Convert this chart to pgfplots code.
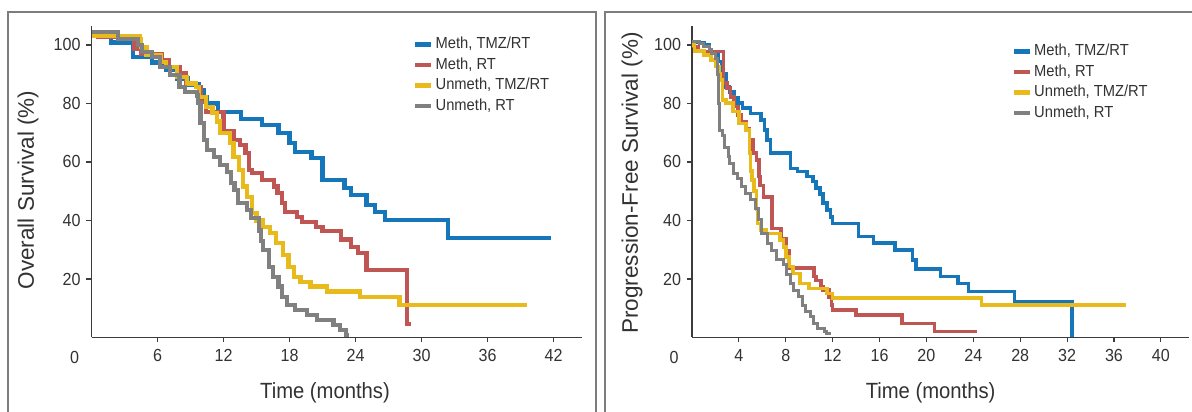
\documentclass[border=0pt]{standalone}
\usepackage{pgfplots}
\pgfplotsset{compat=1.18}
\usepackage{fontspec}
\setmainfont{Liberation Sans}[FakeStretch=0.92]
\newfontfamily\ylabfont{Liberation Sans}
\definecolor{cblue}{RGB}{22,118,186}
\definecolor{cred}{RGB}{192,86,84}
\definecolor{cyel}{RGB}{232,186,28}
\definecolor{cgray}{RGB}{128,128,128}
\definecolor{txt}{RGB}{50,50,50}
\definecolor{framec}{RGB}{125,125,125}
\definecolor{axl}{RGB}{60,60,60}
\pgfplotsset{
 km/.style={
  scale only axis, anchor=south west,
  axis lines=left,
  axis line style={axl, line width=1.5pt, -},
  tick align=outside, tick style={axl, line width=1.2pt}, major tick length=5pt,
  ymin=0, ymax=106.3, ytick={20,40,60,80,100},
  tick label style={font=\fontsize{17.5}{19}\selectfont, text=txt},
  xticklabel style={yshift=-3pt},
  yticklabel style={xshift=-2.5pt},
  /pgf/number format/assume math mode=true,
  clip=false,
  legend cell align=left,
  legend style={draw=none, fill=none, anchor=north west, font=\fontsize{16}{18}\selectfont, text=txt,
    nodes={inner sep=0pt, text height=11.5pt, text depth=3pt}, row sep=6pt, column sep=2pt},
  legend image code/.code={\draw[#1, line width=4.5pt] plot coordinates {(0pt,0pt) (16pt,0pt)};},
  every axis plot/.append style={const plot, line width=4.2pt, mark=none},
 }
}
\begin{document}
\begin{tikzpicture}[x=1pt,y=1pt]
\path[use as bounding box] (0,0) rectangle (1192,412);
\draw[framec, line width=1.5pt] (8,-5) -- (8,400) -- (596,400) -- (596,-5);
\draw[framec, line width=1.5pt] (605,-5) -- (605,400) -- (1200,400);
% ---------------- Left: overall survival
\begin{axis}[km, at={(91.5pt,74.5pt)}, width=490.6pt, height=311pt,
  xmin=0, xmax=44.6, xtick={6,12,18,24,30,36,42},
  legend style={at={(axis cs:28.95,103.4)}}]
\addplot[cblue] coordinates {(0,103.3) (1.8,100.8) (3.8,96.0) (5.5,94) (6.8,91.5) (7.8,88.5) (8.8,86.5) (9.8,84.6) (10.2,82) (10.5,80) (11.5,77.1) (13.6,74.8) (15.5,72.5) (17.0,70) (18.0,66.4) (18.5,63.3) (20.0,61.3) (21.0,53.8) (23.0,51) (23.6,48.7) (25.0,45.3) (25.8,43) (26.7,40.2) (32.4,33.9) (41.8,33.9)};
\addlegendentry{Meth, TMZ/RT}
\addplot[cred] coordinates {(0,104) (0.6,102.8) (3.9,98.7) (4.5,97) (6.4,94.8) (7.0,92.5) (8.0,90.2) (8.6,86.8) (9.5,85.6) (9.9,80.4) (10.4,77.1) (12.0,70.6) (12.9,67.5) (13.5,65.8) (14.0,63) (14.3,57.3) (14.6,56.1) (15.5,53.8) (16.6,51.6) (16.9,49.3) (17.3,45.9) (17.6,43) (18.7,41.3) (19.1,39.6) (20.4,37.9) (21.0,36.5) (22.7,33.5) (23.6,31) (24.2,28.8) (25.0,23.1) (28.65,4.5) (29.0,4.5)};
\addlegendentry{Meth, RT}
\addplot[cyel] coordinates {(0,103) (4.4,102) (4.5,99.3) (5.0,96.5) (6.3,94.2) (6.8,92.5) (7.8,89) (8.7,86.8) (9.5,85.6) (9.8,82.2) (10.4,78.8) (11.0,76.6) (11.4,73.8) (11.7,69.8) (12.6,66.4) (12.9,61.8) (13.4,57.3) (13.8,51.6) (14.1,48.1) (14.6,42.5) (15.0,40) (15.6,37.9) (16.2,35.6) (16.8,32.2) (17.4,28.2) (17.9,24.2) (18.4,20.8) (19.0,19.1) (19.9,17.4) (21.4,15.7) (24.4,13.9) (28.0,11.1) (39.6,11.1)};
\addlegendentry{Unmeth, TMZ/RT}
\addplot[cgray] coordinates {(0,104.4) (2.4,102) (4.2,99.9) (4.6,97.6) (5.5,95.9) (6.2,92.5) (7.1,89.6) (8.0,85.6) (8.5,83.9) (9.6,82.7) (9.7,80.1) (9.9,73.2) (10.2,67.5) (10.5,64.1) (11.1,61.8) (11.7,59) (12.3,56.7) (12.7,52.7) (13.0,50.4) (13.3,45.9) (14.1,43.6) (14.5,40.9) (15.2,36.6) (15.4,33.1) (15.6,29.9) (16.1,24.2) (16.5,20.7) (17.0,17.4) (17.3,13.9) (17.8,11.1) (18.5,9.4) (19.6,7.7) (20.5,6.0) (22.0,4.3) (22.6,2.6) (23.1,0.9) (23.4,0.9)};
\addlegendentry{Unmeth, RT}
\end{axis}
\node[text=txt, font=\fontsize{17.5}{19}\selectfont] at (74.6,55) {0};
\node[text=txt, font=\ylabfont\fontsize{22.5}{26}\selectfont, rotate=90] at (28,222) {Overall Survival (\%)};
\node[text=txt, font=\fontsize{22}{26}\selectfont] at (325,19) {Time (months)};
% ---------------- Right: progression-free survival
\begin{axis}[km, at={(692pt,74.5pt)}, width=497pt, height=311pt,
  xmin=0, xmax=42.4, xtick={4,8,12,16,20,24,28,32,36,40},
  every axis plot/.append style={line width=3.6pt},
  legend style={at={(axis cs:27.0,101.0)}}]
\addplot[cblue] coordinates {(0,100.8) (1.0,100) (1.5,97.7) (2.2,94.3) (2.5,90.3) (2.9,85.7) (3.2,84) (3.6,81.8) (3.9,80.1) (4.3,78.4) (5.0,76.6) (5.9,74.4) (6.2,70.9) (6.4,67.5) (6.7,63) (8.4,57.8) (9.0,56.7) (9.8,55) (10.3,53.3) (10.6,51) (10.9,49) (11.2,46) (11.5,43.5) (11.8,41.1) (12.0,39) (14.2,34.5) (15.5,32.2) (17.3,29.9) (18.8,26.5) (19.1,23.4) (21.2,20.8) (22.7,18.5) (23.6,15.7) (27.5,12.2) (32.4,0)};
\addlegendentry{Meth, TMZ/RT}
\addplot[cred] coordinates {(0,99.5) (0.5,97.7) (2.7,86.9) (3.0,85.2) (3.3,82.3) (3.6,78.9) (3.9,76.1) (4.2,73.8) (4.6,71.5) (4.9,67.5) (5.2,63) (5.5,60.7) (5.7,55) (5.8,52) (6.1,48.1) (6.8,37.3) (7.6,33.9) (8.0,29.5) (8.3,23.7) (10.4,20.8) (10.6,19.5) (11.0,17.4) (11.2,16.2) (11.7,13.9) (11.9,11.1) (12.0,9.4) (14.0,7.7) (17.9,4.8) (20.7,2.0) (24.3,2.0)};
\addlegendentry{Meth, RT}
\addplot[cyel] coordinates {(0,100) (0.2,98) (1.0,96.6) (1.6,94.9) (2.0,92.6) (2.3,90) (2.4,88) (2.6,81.2) (2.9,80.1) (3.5,77.2) (4.0,73.2) (4.6,70.9) (4.9,63) (5.0,57) (5.1,53.8) (5.3,50) (5.5,44) (5.6,39) (5.9,36.8) (6.3,35.6) (7.5,33.3) (7.8,31) (8.0,27.6) (8.3,24.2) (8.6,21.9) (9.2,18.5) (10.0,16.8) (11.5,15.1) (12.0,13.4) (24.7,11.1) (37.0,11.1)};
\addlegendentry{Unmeth, TMZ/RT}
\addplot[cgray, line width=3pt] coordinates {(0,101.1) (0.6,100.6) (1.0,99.5) (1.5,98.3) (1.7,97.2) (2.0,95.4) (2.2,90) (2.3,80) (2.35,70.9) (2.6,69) (2.8,65) (3.1,61.8) (3.2,59.5) (3.5,56.1) (3.9,54.4) (4.2,51.6) (4.6,49.3) (5.0,47) (5.4,44.2) (5.7,40.2) (5.9,35.5) (6.4,32.2) (6.8,29.9) (7.2,26.5) (7.8,24.8) (8.1,21.4) (8.4,18.5) (8.7,16.2) (9.1,13.9) (9.4,11.1) (9.7,8.8) (10.1,7.1) (10.4,4.8) (10.7,3.1) (11.3,2.0) (11.5,1.4) (11.9,1.4)};
\addlegendentry{Unmeth, RT}
\end{axis}
\node[text=txt, font=\fontsize{17.5}{19}\selectfont] at (674,55) {0};
\node[text=txt, font=\ylabfont\fontsize{22.5}{26}\selectfont, rotate=90] at (632,229) {Progression-Free Survival (\%)};
\node[text=txt, font=\fontsize{22}{26}\selectfont] at (930.6,19) {Time (months)};
\end{tikzpicture}
\end{document}
